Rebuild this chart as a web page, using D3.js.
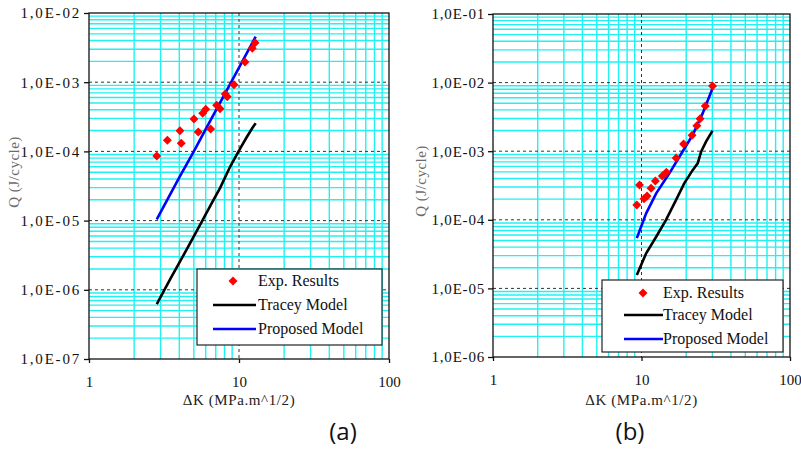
<!DOCTYPE html>
<html lang="en">
<head>
<meta charset="UTF-8">
<title>Q vs dK</title>
<script src="https://d3js.org/d3.v7.min.js"></script>
<style>
  body { margin: 0; background: #fff; }
  svg { display: block; }
</style>
</head>
<body>
<svg width="801" height="451"></svg>
<script>
// ---- data ----
var xTickValues = [1, 10, 100];

// panel (a)
var aYTicks = [1e-7, 1e-6, 1e-5, 1e-4, 1e-3, 1e-2];
var aExpK = [2.83, 3.33, 4.04, 4.12, 5.01, 5.35, 5.73, 6.0, 6.47, 7.1, 7.47, 8.1, 8.35, 9.26, 10.96, 12.26, 12.8];
var aExpQ = [8.6e-5, 1.45e-4, 1.99e-4, 1.31e-4, 2.94e-4, 1.91e-4, 3.55e-4, 4.06e-4, 2.11e-4, 4.64e-4, 4.14e-4, 6.75e-4, 6.18e-4, 9.2e-4, 1.96e-3, 3.09e-3, 3.72e-3];
var aTraceyK = [2.83, 3.5, 4.5, 5.5, 6.5, 7.5, 8.72, 9.5, 10.17, 11.25, 12.3, 12.92];
var aTraceyQ = [6.2e-7, 1.46e-6, 3.9e-6, 8.7e-6, 1.7e-5, 3.0e-5, 6.0e-5, 8.4e-5, 1.1e-4, 1.6e-4, 2.2e-4, 2.55e-4];
var aPropK = [2.83, 4.0, 5.0, 6.0, 8.0, 10.0, 12.92];
var aPropQ = [1.04e-5, 4.2e-5, 1.0e-4, 2.1e-4, 6.6e-4, 1.62e-3, 4.55e-3];

// panel (b)
var bYTicks = [1e-6, 1e-5, 1e-4, 1e-3, 1e-2, 1e-1];
var bExpK = [9.3, 9.7, 10.4, 10.9, 11.6, 12.4, 13.8, 14.7, 17.1, 19.2, 21.9, 23.6, 24.8, 26.9, 30.1];
var bExpQ = [1.64e-4, 3.21e-4, 2.03e-4, 2.22e-4, 2.88e-4, 3.68e-4, 4.35e-4, 4.92e-4, 7.96e-4, 1.27e-3, 1.71e-3, 2.35e-3, 2.98e-3, 4.56e-3, 8.9e-3];
var bTraceyK = [9.3, 10.75, 12.56, 14.6, 17.1, 19.4, 22.1, 23.9, 25.2, 27.2, 30.1];
var bTraceyQ = [1.57e-5, 3.25e-5, 5.67e-5, 9.9e-5, 1.95e-4, 3.4e-4, 5.3e-4, 6.65e-4, 9.8e-4, 1.38e-3, 1.99e-3];
var bPropK = [9.3, 10.75, 12.56, 15.4, 18.0, 22.1, 25.8, 30.1];
var bPropQ = [5.4e-5, 1.24e-4, 2.43e-4, 4.76e-4, 8.3e-4, 1.72e-3, 3.56e-3, 8.26e-3];

var legendNames = ["Exp. Results", "Tracey Model", "Proposed Model"];

var serif = '"Liberation Serif", "DejaVu Serif", serif';
var svg = d3.select("svg");

function fmtQ(d) {
  var e = Math.round(Math.log10(d));
  var s = String(Math.abs(e));
  if (s.length < 2) s = "0" + s;
  return "1,0E" + (e < 0 ? "-" : "+") + s;
}

function zip(ks, qs) {
  return ks.map(function(k, i) { return { k: k, q: qs[i] }; });
}

function drawPanel(cfg) {
  var x = d3.scaleLog().domain([1, 100]).range([cfg.left, cfg.right]);
  var y = d3.scaleLog().domain(cfg.yDomain).range([cfg.bottom, cfg.top]);
  var g = svg.append("g");

  // minor grid (cyan)
  var xMinor = x.ticks().filter(function(d) { return xTickValues.indexOf(d) < 0; });
  var yMinor = y.ticks().filter(function(d) { return Math.abs(Math.log10(d) - Math.round(Math.log10(d))) > 1e-6; });
  g.selectAll(".vminor").data(xMinor).enter().append("line")
    .attr("x1", function(d) { return x(d); }).attr("x2", function(d) { return x(d); })
    .attr("y1", cfg.top).attr("y2", cfg.bottom)
    .attr("stroke", "#1ff2f2").attr("stroke-width", 1.4);
  g.selectAll(".hminor").data(yMinor).enter().append("line")
    .attr("y1", function(d) { return y(d); }).attr("y2", function(d) { return y(d); })
    .attr("x1", cfg.left).attr("x2", cfg.right)
    .attr("stroke", "#1ff2f2").attr("stroke-width", 1.4);

  // major grid (dashed black)
  g.selectAll(".hmajor").data(cfg.yTicks.slice(1, -1)).enter().append("line")
    .attr("y1", function(d) { return y(d); }).attr("y2", function(d) { return y(d); })
    .attr("x1", cfg.left).attr("x2", cfg.right)
    .attr("stroke", "#333").attr("stroke-width", 1).attr("stroke-dasharray", "3,3");
  g.selectAll(".vmajor").data(xTickValues.slice(1, -1)).enter().append("line")
    .attr("x1", function(d) { return x(d); }).attr("x2", function(d) { return x(d); })
    .attr("y1", cfg.top).attr("y2", cfg.bottom)
    .attr("stroke", "#333").attr("stroke-width", 1).attr("stroke-dasharray", "3,3");

  // frame
  g.append("rect")
    .attr("x", cfg.left).attr("y", cfg.top)
    .attr("width", cfg.right - cfg.left).attr("height", cfg.bottom - cfg.top)
    .attr("fill", "none").attr("stroke", "#111").attr("stroke-width", 1.3);

  // axes
  var yAxis = d3.axisLeft(y).tickValues(cfg.yTicks).tickSize(5).tickFormat(fmtQ);
  var yg = g.append("g").attr("transform", "translate(" + cfg.left + ",0)").call(yAxis)
    .attr("font-family", serif).attr("font-size", 15);
  yg.select(".domain").remove();
  yg.selectAll(".tick line").attr("stroke", "#111").attr("stroke-width", 1.3);
  yg.selectAll(".tick text").attr("x", -8).attr("fill", "#111")
    .style("letter-spacing", cfg.ls + "px");

  var xAxis = d3.axisBottom(x).tickValues(xTickValues).tickSize(4).tickFormat(d3.format("d"));
  var xg = g.append("g").attr("transform", "translate(0," + cfg.bottom + ")").call(xAxis)
    .attr("font-family", serif).attr("font-size", 15);
  xg.select(".domain").remove();
  xg.selectAll(".tick line").attr("stroke", "#111").attr("stroke-width", 1.3);
  xg.selectAll(".tick text").attr("y", 28).attr("dy", 0).attr("fill", "#111");

  // series
  var line = d3.line().x(function(d) { return x(d.k); }).y(function(d) { return y(d.q); });
  g.append("path").datum(zip(cfg.traceyK, cfg.traceyQ)).attr("d", line)
    .attr("fill", "none").attr("stroke", "#000").attr("stroke-width", 2.6);
  g.append("path").datum(zip(cfg.propK, cfg.propQ)).attr("d", line)
    .attr("fill", "none").attr("stroke", "#0000ff").attr("stroke-width", 2.6);

  var diamond = d3.symbol().type(d3.symbolSquare).size(40);
  g.selectAll(".pt").data(zip(cfg.expK, cfg.expQ)).enter().append("path")
    .attr("d", diamond)
    .attr("transform", function(d) { return "translate(" + x(d.k) + "," + y(d.q) + ") rotate(45)"; })
    .attr("fill", "#ff0000");

  // axis titles
  g.append("text")
    .attr("x", (cfg.left + cfg.right) / 2).attr("y", 405)
    .attr("text-anchor", "middle").attr("font-family", serif).attr("font-size", 15)
    .attr("fill", "#222").style("letter-spacing", "0.6px")
    .text("\u0394K (MPa.m^1/2)");
  g.append("text")
    .attr("transform", "translate(" + cfg.yTitleX + "," + cfg.yTitleY + ") rotate(-90)")
    .attr("text-anchor", "middle").attr("font-family", serif).attr("font-size", 15)
    .attr("fill", "#6b6b6b").style("letter-spacing", "0.5px")
    .text("Q (J/cycle)");

  // legend
  var L = cfg.legend;
  var lg = g.append("g");
  lg.append("rect").attr("x", L.x).attr("y", L.y).attr("width", L.w).attr("height", L.h)
    .attr("fill", "#fff").attr("stroke", "#222").attr("stroke-width", 1.2);
  lg.append("path").attr("d", diamond)
    .attr("transform", "translate(" + L.markX + "," + (L.rows[0] - 5) + ") rotate(45)")
    .attr("fill", "#ff0000");
  lg.append("line").attr("x1", L.lineX1).attr("x2", L.lineX2)
    .attr("y1", L.rows[1] - 5).attr("y2", L.rows[1] - 5)
    .attr("stroke", "#000").attr("stroke-width", 2.6);
  lg.append("line").attr("x1", L.lineX1).attr("x2", L.lineX2)
    .attr("y1", L.rows[2] - 5).attr("y2", L.rows[2] - 5)
    .attr("stroke", "#0000ff").attr("stroke-width", 2.6);
  lg.selectAll(".lt").data(legendNames).enter().append("text")
    .attr("font-family", serif).attr("font-size", 16).attr("fill", "#111")
    .attr("x", L.textX).attr("y", function(d, i) { return L.rows[i]; })
    .text(function(d) { return d; });

  // panel label
  svg.append("text")
    .attr("x", cfg.labelX).attr("y", 440).attr("text-anchor", "middle")
    .attr("font-family", '"Open Sans", "Noto Sans", sans-serif').attr("font-size", 24).attr("fill", "#111")
    .text(cfg.label);
}

drawPanel({
  left: 89, right: 389, top: 13, bottom: 359,
  yDomain: [1e-7, 1e-2], yTicks: aYTicks, ls: 1.8,
  expK: aExpK, expQ: aExpQ, traceyK: aTraceyK, traceyQ: aTraceyQ, propK: aPropK, propQ: aPropQ,
  yTitleX: 19, yTitleY: 172,
  legend: { x: 197, y: 269, w: 185, h: 76, markX: 233, lineX1: 213, lineX2: 256, textX: 258, rows: [286, 310, 334] },
  label: "(a)", labelX: 343
});

drawPanel({
  left: 493, right: 790, top: 14, bottom: 357,
  yDomain: [1e-6, 1e-1], yTicks: bYTicks, ls: 0.8,
  expK: bExpK, expQ: bExpQ, traceyK: bTraceyK, traceyQ: bTraceyQ, propK: bPropK, propQ: bPropQ,
  yTitleX: 426, yTitleY: 181,
  legend: { x: 602, y: 280, w: 181, h: 72, markX: 643, lineX1: 624, lineX2: 663, textX: 663, rows: [298, 320, 344] },
  label: "(b)", labelX: 630
});
</script>
</body>
</html>
